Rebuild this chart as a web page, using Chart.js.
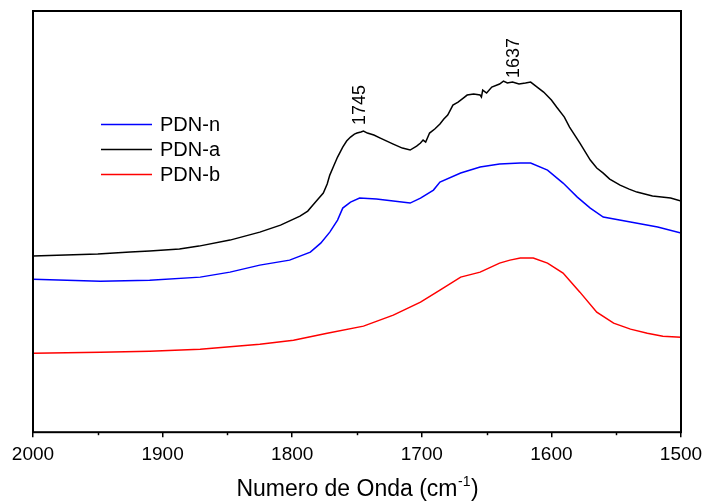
<!DOCTYPE html>
<html>
<head>
<meta charset="utf-8">
<script src="https://cdn.jsdelivr.net/npm/chart.js@4/dist/chart.umd.min.js"></script>
<style>
  body { margin: 0; background: #fff; }
  #wrap { width: 704px; height: 501px; }
</style>
</head>
<body>
<div id="wrap"><canvas id="myChart"></canvas></div>
<script>
// Wellenzahl (cm-1) und Absorbanz (a.u.) pro Probe
const wnA = [2000, 1975, 1950, 1925, 1910, 1887, 1872, 1848, 1825, 1809, 1794, 1788, 1784, 1780, 1776, 1773, 1771, 1768, 1765, 1761, 1758, 1755, 1752, 1750, 1747, 1745, 1742, 1737, 1732, 1727, 1722, 1715, 1709, 1704, 1701, 1699, 1697, 1694, 1690, 1686, 1683, 1680, 1678, 1676, 1672, 1668, 1665, 1660, 1655, 1654, 1653, 1650, 1646, 1640, 1637, 1634, 1630, 1625, 1620, 1616, 1612, 1606, 1600, 1596, 1590, 1586, 1578, 1570, 1565, 1560, 1555, 1547, 1540, 1534, 1528, 1522, 1515, 1508, 1500];
const pdnA = [1.76, 1.77, 1.78, 1.80, 1.81, 1.83, 1.86, 1.92, 2.00, 2.07, 2.16, 2.21, 2.27, 2.33, 2.39, 2.48, 2.57, 2.66, 2.75, 2.85, 2.91, 2.95, 2.98, 2.99, 3.00, 3.01, 2.99, 2.97, 2.94, 2.91, 2.88, 2.84, 2.82, 2.86, 2.89, 2.92, 2.90, 2.99, 3.03, 3.08, 3.13, 3.17, 3.22, 3.27, 3.30, 3.34, 3.37, 3.38, 3.37, 3.35, 3.42, 3.39, 3.45, 3.48, 3.51, 3.49, 3.50, 3.48, 3.49, 3.50, 3.46, 3.40, 3.32, 3.25, 3.15, 3.05, 2.89, 2.72, 2.64, 2.59, 2.53, 2.47, 2.43, 2.40, 2.38, 2.36, 2.35, 2.34, 2.31];

const wnN = [2000, 1948, 1910, 1871, 1848, 1825, 1802, 1786, 1778, 1771, 1765, 1761, 1755, 1748, 1735, 1722, 1709, 1701, 1691, 1686, 1670, 1655, 1640, 1624, 1616, 1603, 1591, 1580, 1570, 1560, 1539, 1518, 1500];
const pdnN = [1.53, 1.51, 1.52, 1.55, 1.60, 1.67, 1.72, 1.80, 1.89, 2.00, 2.12, 2.24, 2.30, 2.34, 2.33, 2.31, 2.29, 2.34, 2.42, 2.50, 2.59, 2.65, 2.68, 2.69, 2.69, 2.62, 2.49, 2.35, 2.24, 2.15, 2.10, 2.05, 1.99];

const wnB = [2000, 1948, 1910, 1871, 1825, 1799, 1773, 1745, 1722, 1701, 1686, 1670, 1655, 1640, 1632, 1624, 1614, 1603, 1591, 1578, 1565, 1552, 1539, 1526, 1514, 1500];
const pdnB = [0.79, 0.80, 0.81, 0.83, 0.88, 0.92, 0.99, 1.06, 1.17, 1.30, 1.42, 1.55, 1.60, 1.69, 1.72, 1.74, 1.74, 1.69, 1.59, 1.40, 1.20, 1.09, 1.03, 0.99, 0.96, 0.95];

const xTicks = [2000, 1900, 1800, 1700, 1600, 1500];
const minorTicks = [1950, 1850, 1750, 1650, 1550];
const peakLabels = ['1745', '1637'];
const peakPos = [1745, 1637];

function toXY(xs, ys) {
    return xs.map((x, i) => ({x: x, y: ys[i]}));
}

const ctx = document.getElementById('myChart').getContext('2d');

// Rahmen, Nebenstriche, Legende, Peak-Beschriftung, Achsentitel
const extras = {
    id: 'extras',
    afterDatasetsDraw(chart) {
        const c = chart.ctx;
        const a = chart.chartArea;
        const xs = chart.scales.x;
        const ys = chart.scales.y;
        c.save();

        // Rahmen
        c.strokeStyle = '#000';
        c.lineWidth = 2;
        c.strokeRect(a.left, a.top, a.right - a.left, a.bottom - a.top);

        // Nebenstriche
        c.lineWidth = 1.5;
        minorTicks.forEach(v => {
            const px = Math.round(xs.getPixelForValue(v)) + 0.5;
            c.beginPath();
            c.moveTo(px, a.bottom);
            c.lineTo(px, a.bottom + 3);
            c.stroke();
        });

        // Legende
        const items = [
            {label: 'PDN-n', color: '#0000ff'},
            {label: 'PDN-a', color: '#000000'},
            {label: 'PDN-b', color: '#ff0000'}
        ];
        c.font = '20px "Liberation Sans", Arial, sans-serif';
        c.textBaseline = 'middle';
        c.textAlign = 'left';
        items.forEach((it, i) => {
            const y = 124 + i * 25;
            c.strokeStyle = it.color;
            c.lineWidth = 1.5;
            c.beginPath();
            c.moveTo(101, y + 0.5);
            c.lineTo(152, y + 0.5);
            c.stroke();
            c.fillStyle = '#000';
            c.fillText(it.label, 160, y + 1);
        });

        // Peak-Beschriftung (senkrecht)
        c.font = '18px "Liberation Sans", Arial, sans-serif';
        c.fillStyle = '#000';
        const offs = [[-3, 6], [11, 3]];
        peakLabels.forEach((t, i) => {
            const v = peakPos[i];
            const idx = wnA.indexOf(v);
            const px = xs.getPixelForValue(v) + offs[i][0];
            const py = ys.getPixelForValue(pdnA[idx]) - offs[i][1];
            c.save();
            c.translate(px, py);
            c.rotate(-Math.PI / 2);
            c.textAlign = 'left';
            c.textBaseline = 'middle';
            c.fillText(t, 0, 0);
            c.restore();
        });

        // Achsentitel mit Hochzahl
        const main = 'Numero de Onda (cm';
        const sup = '-1';
        const end = ')';
        const f1 = '23px "Liberation Sans", Arial, sans-serif';
        const f2 = '14px "Liberation Sans", Arial, sans-serif';
        c.font = f1;
        const w1 = c.measureText(main).width;
        const w3 = c.measureText(end).width;
        c.font = f2;
        const w2 = c.measureText(sup).width;
        const cx = (a.left + a.right) / 2;
        let x0 = cx - (w1 + w2 + w3) / 2;
        const yb = 496;
        c.textAlign = 'left';
        c.textBaseline = 'alphabetic';
        c.font = f1;
        c.fillText(main, x0, yb);
        c.font = f2;
        c.fillText(sup, x0 + w1 + 0.5, yb - 10);
        c.font = f1;
        c.fillText(end, x0 + w1 + w2 + 1, yb);
        c.restore();
    }
};

const myChart = new Chart(ctx, {
    type: 'line',
    data: {
        datasets: [
            {label: 'PDN-n', data: toXY(wnN, pdnN), borderColor: '#0000ff', borderWidth: 1.5, pointRadius: 0, fill: false, tension: 0},
            {label: 'PDN-a', data: toXY(wnA, pdnA), borderColor: '#000000', borderWidth: 1.5, pointRadius: 0, fill: false, tension: 0},
            {label: 'PDN-b', data: toXY(wnB, pdnB), borderColor: '#ff0000', borderWidth: 1.5, pointRadius: 0, fill: false, tension: 0}
        ]
    },
    options: {
        responsive: true,
        maintainAspectRatio: false,
        animation: false,
        layout: {padding: {left: 33, right: 23, top: 11, bottom: 29}},
        plugins: {legend: {display: false}, tooltip: {enabled: false}},
        scales: {
            x: {
                type: 'linear',
                reverse: true,
                min: 1500,
                max: 2000,
                afterBuildTicks: axis => { axis.ticks = xTicks.map(v => ({value: v})); },
                afterFit: axis => { axis.paddingLeft = 0; axis.paddingRight = 0; },
                ticks: {
                    color: '#000',
                    padding: 6,
                    maxRotation: 0,
                    autoSkip: false,
                    callback: v => String(v),
                    font: {family: '"Liberation Sans", Arial, sans-serif', size: 19}
                },
                grid: {drawOnChartArea: false, drawTicks: true, tickLength: 5, color: '#000', lineWidth: 1.5},
                border: {display: false}
            },
            y: {
                display: false,
                min: 0,
                max: 4.21
            }
        }
    },
    plugins: [extras]
});
</script>
</body>
</html>
